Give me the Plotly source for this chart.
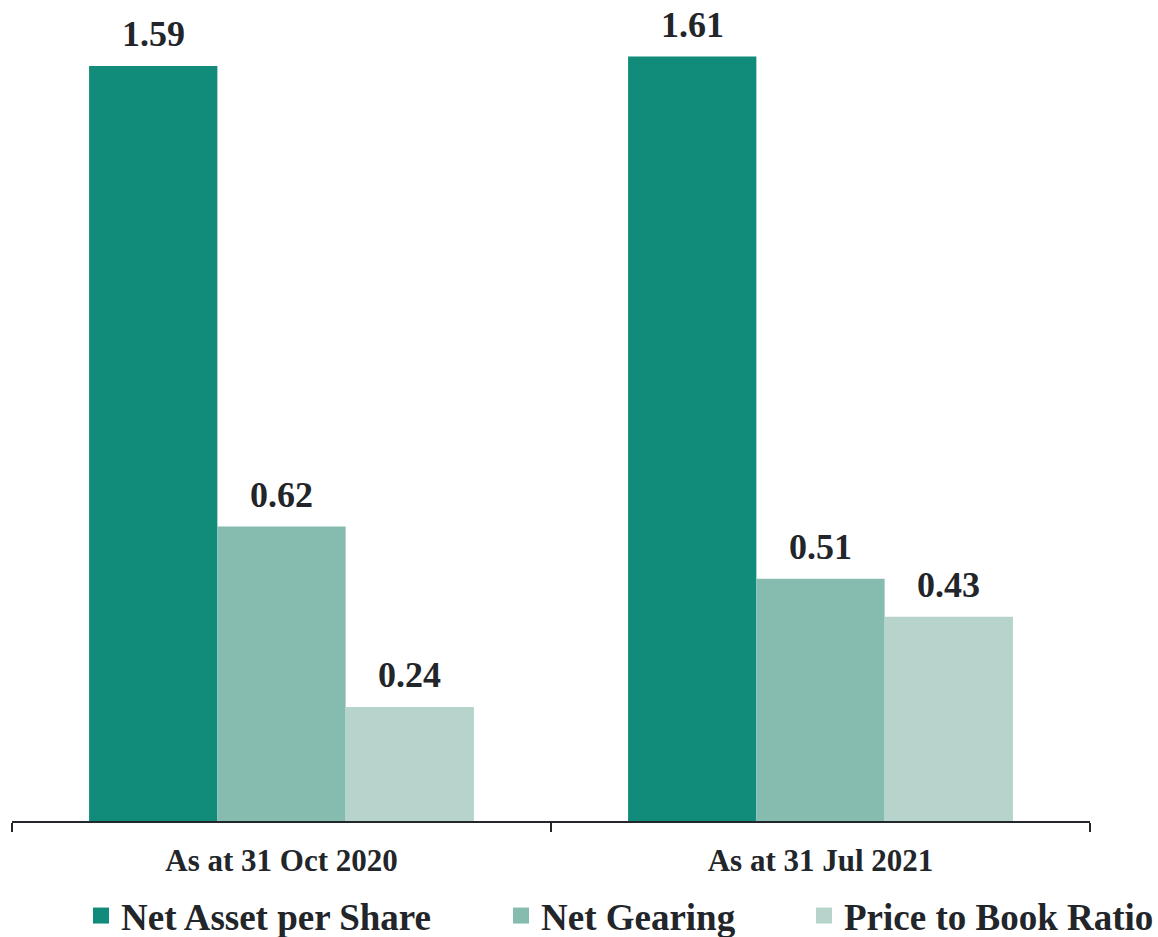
import plotly.graph_objects as go

categories = ["As at 31 Oct 2020", "As at 31 Jul 2021"]
series_names = ["Net Asset per Share", "Net Gearing", "Price to Book Ratio"]
net_asset_per_share = [1.59, 1.61]
net_gearing = [0.62, 0.51]
price_to_book = [0.24, 0.43]

colors = ["#118B7A", "#86BBAF", "#B7D4CC"]
text_color = "#222529"
font_family = "Liberation Serif"

series_values = [net_asset_per_share, net_gearing, price_to_book]

W, H = 1158, 937
bar_px = 128  # width of one bar in pixels, used to offset the value labels

fig = go.Figure()
for i, (name, vals, col) in enumerate(zip(series_names, series_values, colors)):
    fig.add_trace(go.Bar(
        name=name,
        x=categories,
        y=vals,
        marker=dict(color=col, line=dict(width=0)),
        showlegend=False,
    ))
    # value labels above each bar
    for cat, v in zip(categories, vals):
        fig.add_annotation(
            x=cat, y=v, xref="x", yref="y",
            text=f"<b>{v:.2f}</b>",
            showarrow=False,
            xanchor="center", yanchor="bottom",
            xshift=(i - 1) * bar_px,
            yshift=10,
            font=dict(family=font_family, size=36, color=text_color),
        )

# legend entries: one legend per series so each can sit at its own spot
legend_x = [81, 501, 804]
legend_ids = ["legend", "legend2", "legend3"]
for name, col, lid in zip(series_names, colors, legend_ids):
    fig.add_trace(go.Scatter(
        name=name,
        x=[None], y=[None],
        mode="markers",
        marker=dict(symbol="square", size=16, color=col),
        showlegend=True,
        legend=lid,
    ))

legend_common = dict(
    orientation="h",
    xref="container", yref="container",
    xanchor="left", yanchor="middle",
    y=1 - 916 / H,
    font=dict(family=font_family, size=37, color=text_color, weight="bold"),
    itemsizing="trace",
    bgcolor="rgba(0,0,0,0)",
    borderwidth=0,
)

fig.update_layout(
    width=W,
    height=H,
    margin=dict(l=12, r=68, t=0, b=116, autoexpand=False),
    paper_bgcolor="white",
    plot_bgcolor="white",
    barmode="group",
    bargap=0.286,
    bargroupgap=0,
    font=dict(family=font_family, color=text_color),
    legend=dict(x=legend_x[0] / W, **legend_common),
    legend2=dict(x=legend_x[1] / W, **legend_common),
    legend3=dict(x=legend_x[2] / W, **legend_common),
    xaxis=dict(
        range=[-0.5, 1.5],
        showline=True,
        linecolor="#23272b",
        linewidth=2,
        ticks="outside",
        tickson="boundaries",
        ticklen=9,
        tickwidth=2,
        tickcolor="#23272b",
        ticklabelstandoff=11,
        tickfont=dict(family=font_family, size=31, color=text_color, weight="bold"),
        showgrid=False,
        zeroline=False,
        automargin=False,
    ),
    yaxis=dict(
        range=[0, 1.729],
        visible=False,
        showgrid=False,
        zeroline=False,
    ),
)

fig.write_html("out.html")
